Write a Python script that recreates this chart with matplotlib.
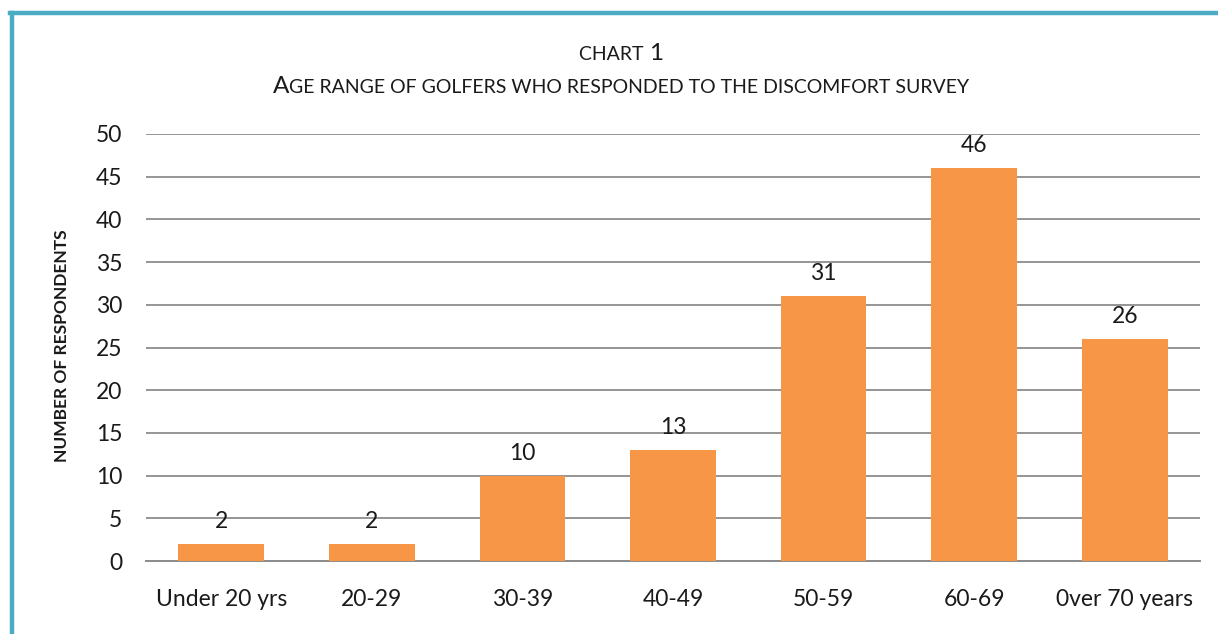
import matplotlib.pyplot as plt
from matplotlib.lines import Line2D

categories = ['Under 20 yrs', '20-29', '30-39', '40-49', '50-59', '60-69', '0ver 70 years']
respondents = [2, 2, 10, 13, 31, 46, 26]
yticks = [0, 5, 10, 15, 20, 25, 30, 35, 40, 45, 50]

plt.rcParams['font.family'] = ['Lato', 'DejaVu Sans']

W, H = 1218, 634
fig = plt.figure(figsize=(W / 100, H / 100), dpi=100)
ax = fig.add_axes([146 / W, 1 - 561 / H, (1200 - 146) / W, (561 - 134) / H])

x = range(len(categories))
bars = ax.bar(x, respondents, width=0.57, color='#F79646', zorder=3)
for b, v in zip(bars, respondents):
    ax.annotate(str(v), (b.get_x() + b.get_width() / 2, v), xytext=(0, 8.5),
                textcoords='offset points', ha='center', va='bottom',
                fontsize=16.5, color='#1a1a1a', zorder=4)

ax.set_xlim(-0.5, len(categories) - 0.5)
ax.set_ylim(0, 50)
ax.set_yticks(yticks)
ax.set_xticks(list(x))
ax.set_xticklabels(categories)
ax.grid(axis='y', color='#8c8c8c', linewidth=1.3, zorder=0)
ax.tick_params(axis='both', length=0, labelsize=16.5, colors='#1a1a1a')
ax.tick_params(axis='y', pad=17)
ax.tick_params(axis='x', pad=20)
for s in ['top', 'right', 'left']:
    ax.spines[s].set_visible(False)
ax.spines['bottom'].set_color('#8c8c8c')
ax.spines['bottom'].set_linewidth(1.4)

fig.text(62 / W, 1 - 346 / H, 'NUMBER OF RESPONDENTS', rotation=90,
         ha='center', va='center', fontsize=12.5, fontweight='bold', color='#1a1a1a')


# small caps titles built from pieces
def small_caps(parts, y):
    texts = []
    for s, size in parts:
        t = fig.text(0, y, s, fontsize=size, ha='left', va='baseline', color='#1a1a1a')
        texts.append(t)
    fig.canvas.draw()
    r = fig.canvas.get_renderer()
    widths = [t.get_window_extent(r).width for t in texts]
    total = sum(widths)
    left = (621 - total / 2)
    for t, w in zip(texts, widths):
        t.set_x(left / W)
        left += w


small_caps([('CHART ', 14), ('1', 17.5)], 1 - 60 / H)
small_caps([('A', 17.5), ('GE RANGE OF GOLFERS WHO RESPONDED TO THE DISCOMFORT SURVEY', 14)], 1 - 93 / H)

# teal frame
fig.add_artist(Line2D([12 / W, 12 / W], [0, 1 - 13 / H], color='#4BACC6', linewidth=3.2))
fig.add_artist(Line2D([10 / W, 1], [1 - 13 / H, 1 - 13 / H], color='#4BACC6', linewidth=3.2))

fig.savefig('out.png', dpi=100)
